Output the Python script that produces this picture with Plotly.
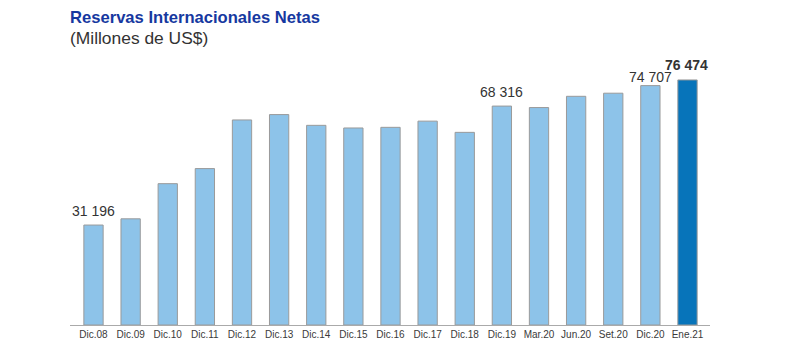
import plotly.graph_objects as go

categories = ["Dic.08", "Dic.09", "Dic.10", "Dic.11", "Dic.12", "Dic.13", "Dic.14", "Dic.15",
              "Dic.16", "Dic.17", "Dic.18", "Dic.19", "Mar.20", "Jun.20", "Set.20", "Dic.20", "Ene.21"]
values = [31196, 33135, 44105, 48816, 63991, 65663, 62308, 61485,
          61686, 63621, 60121, 68316, 67860, 71371, 72340, 74707, 76474]
labels = ["31 196", "", "", "", "", "", "", "", "", "", "", "68 316", "", "", "", "74 707", "<b>76 474</b>"]

colors = ["#8DC3E9"] * (len(values) - 1) + ["#0774BA"]

# label placement offsets (pixels), styling only
label_offsets = {"Dic.20": (0, -1), "Ene.21": (-1, 5)}

fig = go.Figure()
fig.add_trace(go.Bar(
    x=categories, y=values,
    marker=dict(color=colors, line=dict(color="#9A9A9A", width=1)),
    hoverinfo="x+y",
))

annotations = []
for c, v, t in zip(categories, values, labels):
    if t:
        dx, dy = label_offsets.get(c, (0, 4))
        annotations.append(dict(x=c, y=v, text=t, xref="x", yref="y", showarrow=False,
                                yanchor="bottom", yshift=dy, xshift=dx,
                                font=dict(family="Liberation Sans, Arial", size=14, color="#333333")))

annotations += [
    dict(text="<b>Reservas Internacionales Netas</b>", xref="paper", yref="paper",
         x=-0.003, y=1.162, xanchor="left", yanchor="middle", showarrow=False,
         font=dict(family="Liberation Sans, Arial", size=16.6, color="#1638A0")),
    dict(text="(Millones de US$)", xref="paper", yref="paper",
         x=-0.003, y=1.083, xanchor="left", yanchor="middle", showarrow=False,
         font=dict(family="Liberation Sans, Arial", size=17.4, color="#333333")),
]

fig.update_layout(
    width=784, height=348,
    margin=dict(l=62, r=82, t=52, b=31),
    paper_bgcolor="white", plot_bgcolor="white",
    bargap=0.48, showlegend=False,
    font=dict(family="Liberation Sans, Arial", color="#333333"),
    xaxis=dict(showline=True, linecolor="#AAAAAA", linewidth=1, ticks="",
               tickfont=dict(size=10, color="#3A3A3A"), showgrid=False),
    yaxis=dict(range=[0, 82700], visible=False, showgrid=False),
    annotations=annotations,
)

fig.write_html("out.html")
